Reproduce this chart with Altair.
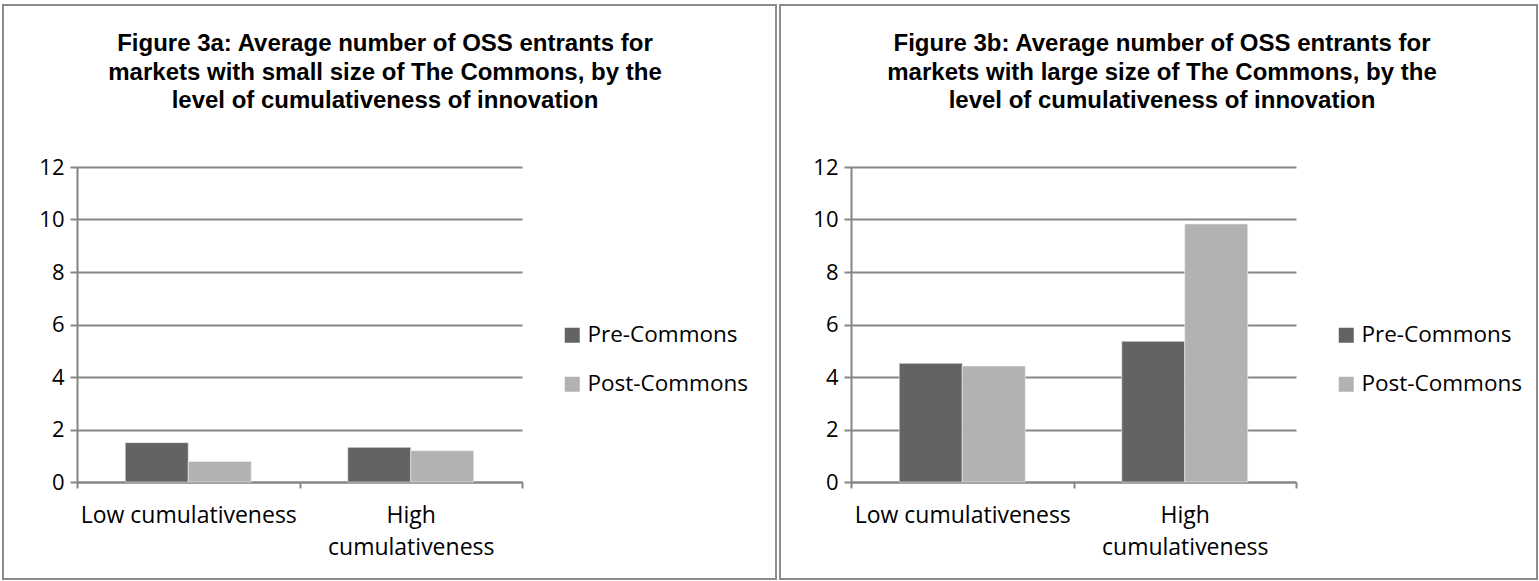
import altair as alt
import pandas as pd

# Chart values
categories = ["Low cumulativeness", "High cumulativeness"]
periods = ["Pre-Commons", "Post-Commons"]
small_pre = [1.50, 1.32]
small_post = [0.78, 1.19]
large_pre = [4.52, 5.36]
large_post = [4.42, 9.83]
y_ticks = [0, 2, 4, 6, 8, 10, 12]

title_a = [
    "Figure 3a: Average number of OSS entrants for",
    "markets with small size of The Commons, by the",
    "level of cumulativeness of innovation",
]
title_b = [
    "Figure 3b: Average number of OSS entrants for",
    "markets with large size of The Commons, by the",
    "level of cumulativeness of innovation",
]

FONT = "Open Sans"
TITLE_FONT = "Liberation Sans"
GRID = "#868686"
PLOT_W = 445
PLOT_H = 315


def panel_frame(pre, post):
    rows = []
    for i, cat in enumerate(categories):
        rows.append({"category": cat, "period": periods[0], "value": pre[i]})
        rows.append({"category": cat, "period": periods[1], "value": post[i]})
    return pd.DataFrame(rows)


def panel(pre, post, title_lines, frame_left, frame_right, title_cx):
    df = panel_frame(pre, post)
    one = pd.DataFrame({"k": [0]})

    # outer border of the panel
    frame = alt.Chart(one).mark_rect(
        fill="transparent", stroke="#8c8c8c", strokeWidth=2
    ).encode(
        x=alt.value(frame_left), x2=alt.value(frame_right),
        y=alt.value(-162), y2=alt.value(412),
    )

    bars = alt.Chart(df).mark_bar(stroke="#f0f0f0", strokeWidth=0.6).encode(
        x=alt.X(
            "category:N", sort=categories, title=None,
            scale=alt.Scale(paddingInner=0, paddingOuter=0),
            axis=alt.Axis(
                tickBand="extent", tickSize=6, tickColor=GRID, tickWidth=2,
                domainColor=GRID, domainWidth=2, labelAngle=0,
                labelFont=FONT, labelFontSize=23, labelColor="black",
                labelPadding=16, labelLineHeight=32, labelLimit=0,
                labelExpr="datum.label == 'High cumulativeness' ? ['High', 'cumulativeness'] : datum.label",
                grid=False,
            ),
        ),
        xOffset=alt.XOffset(
            "period:N", sort=periods,
            scale=alt.Scale(paddingInner=0, paddingOuter=0.766),
        ),
        y=alt.Y(
            "value:Q", title=None,
            scale=alt.Scale(domain=[0, 12], nice=False),
            axis=alt.Axis(
                values=y_ticks, tickSize=7, tickColor=GRID, tickWidth=2,
                domainColor=GRID, domainWidth=2, gridColor=GRID, gridWidth=2,
                labelFont=FONT, labelFontSize=22, labelColor="black",
                labelPadding=6,
            ),
        ),
        color=alt.Color(
            "period:N", sort=periods,
            scale=alt.Scale(domain=periods, range=["#636363", "#b2b2b2"]),
            legend=alt.Legend(
                title=None, orient="none", legendX=484, legendY=157,
                symbolType="square", symbolSize=225, symbolStrokeWidth=0,
                symbolOpacity=1, labelFont=FONT, labelFontSize=22.5,
                labelColor="black", labelOffset=4, rowPadding=26, padding=0,
                labelLimit=0,
            ),
        ),
    )

    title = alt.Chart(one).mark_text(
        text=title_lines, font=TITLE_FONT, fontSize=24, fontWeight="bold",
        color="black", align="center", baseline="alphabetic", lineHeight=28.5,
    ).encode(x=alt.value(title_cx), y=alt.value(-116))

    return alt.layer(frame, bars, title).properties(width=PLOT_W, height=PLOT_H)


left = panel(small_pre, small_post, title_a, -74, 699, 308)
right = panel(large_pre, large_post, title_b, -71, 686, 311)

chart = alt.hconcat(left, right, spacing=2).resolve_scale(
    color="independent"
).resolve_legend(color="independent").properties(
    padding={"left": 2, "top": 4, "right": 0, "bottom": 0},
    background="white",
).configure_view(stroke=None)

chart.save("out.html", embed_options={"renderer": "svg", "actions": False})
